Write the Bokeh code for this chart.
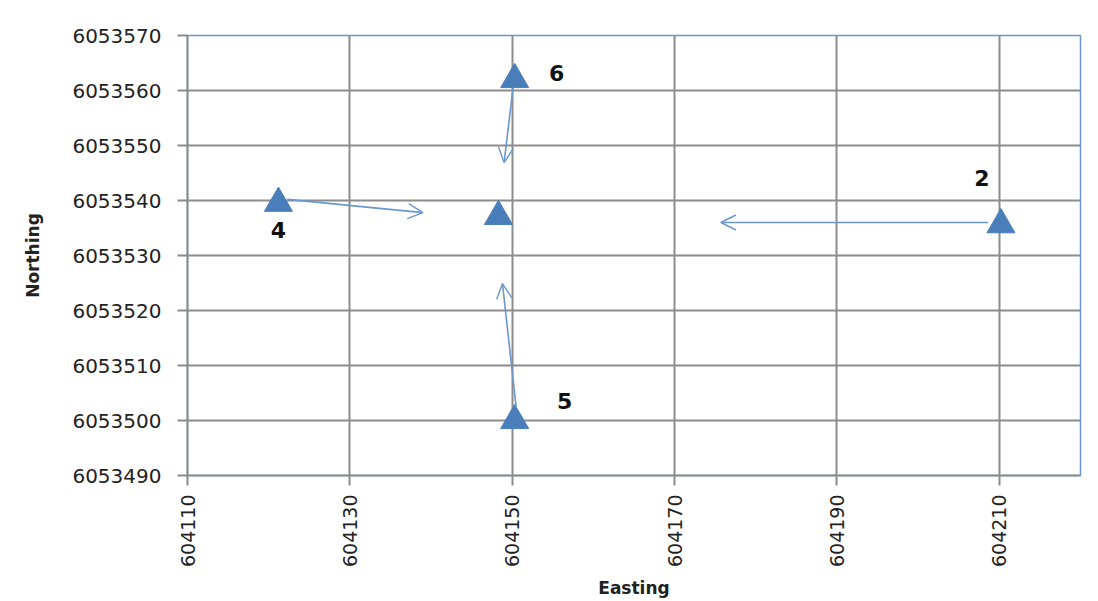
import math
from bokeh.plotting import figure
from bokeh.models import ColumnDataSource, Arrow, OpenHead, FixedTicker
from bokeh.core.properties import value
from bokeh.embed import file_html
from bokeh.resources import INLINE

# --- data ---
station_ids = ["6", "4", "C", "2", "5"]
easting = [604150.3, 604121.2, 604148.3, 604210.2, 604150.3]
northing = [6053562.0, 6053539.5, 6053537.1, 6053535.6, 6053500.0]

label_text = ["6", "2", "4", "5"]
label_e = [604150.3, 604210.2, 604121.2, 604150.3]
label_n = [6053562.0, 6053535.6, 6053539.5, 6053500.0]

arrow_e0 = [604122.3, 604150.1, 604150.5, 604208.6]
arrow_n0 = [6053540.2, 6053560.5, 6053502.2, 6053536.0]
arrow_e1 = [604139.0, 604149.0, 604148.8, 604175.7]
arrow_n1 = [6053537.8, 6053546.9, 6053524.9, 6053536.0]

x_ticks = [604110, 604130, 604150, 604170, 604190, 604210]
y_ticks = [6053490, 6053500, 6053510, 6053520, 6053530, 6053540, 6053550, 6053560, 6053570]

# --- figure ---
p = figure(width=1098, height=601, output_backend="svg", toolbar_location=None,
           x_range=(604110, 604220), y_range=(6053490, 6053570),
           min_border_left=187, min_border_right=18, min_border_top=35, min_border_bottom=126)

grid_col = "#8c8c8c"
blue = "#4a7ebb"
line_blue = "#6b97cf"

p.outline_line_color = line_blue
p.outline_line_width = 1.5

p.xaxis.ticker = FixedTicker(ticks=x_ticks)
p.yaxis.ticker = FixedTicker(ticks=y_ticks)
p.xaxis.formatter.use_scientific = False
p.yaxis.formatter.use_scientific = False
for ax in (p.xaxis, p.yaxis):
    ax.axis_line_color = grid_col
    ax.axis_line_width = 2
    ax.major_tick_line_color = grid_col
    ax.major_tick_line_width = 2
    ax.major_tick_out = 10
    ax.major_tick_in = 0
    ax.minor_tick_line_color = None
    ax.major_label_text_font = "DejaVu Sans"
    ax.major_label_text_color = "#222222"
    ax.axis_label_text_font = "DejaVu Sans"
    ax.axis_label_text_font_style = "bold"
    ax.axis_label_text_color = "#222222"
    ax.axis_label_text_font_size = "17px"

p.yaxis.major_label_text_font_size = "20px"
p.xaxis.major_label_text_font_size = "19px"
p.xaxis.major_label_orientation = math.pi / 2
p.yaxis.major_label_standoff = 16
p.xaxis.major_label_standoff = 9
p.xaxis.axis_label = "Easting"
p.yaxis.axis_label = "Northing"
p.xaxis.axis_label_standoff = 8
p.yaxis.axis_label_standoff = 26

p.xgrid.ticker = FixedTicker(ticks=x_ticks)
p.ygrid.ticker = FixedTicker(ticks=y_ticks)
p.grid.grid_line_color = grid_col
p.grid.grid_line_width = 2

# arrows
for e0, n0, e1, n1 in zip(arrow_e0, arrow_n0, arrow_e1, arrow_n1):
    p.add_layout(Arrow(x_start=e0, y_start=n0, x_end=e1, y_end=n1,
                       line_color=line_blue, line_width=1.6,
                       end=OpenHead(size=15, line_color=line_blue, line_width=1.4)))

# points
src = ColumnDataSource(dict(x=easting, y=northing, id=station_ids))
p.scatter("x", "y", source=src, marker="triangle", size=28,
          fill_color=blue, line_color=blue)

# labels
lsrc = ColumnDataSource(dict(x=label_e, y=label_n, t=label_text,
                             dx=[42, -19, 0, 50], dy=[-7, -47, 27, -20]))
p.text("x", "y", text="t", source=lsrc, x_offset="dx", y_offset="dy",
       text_font=value("DejaVu Sans"), text_font_style="bold",
       text_font_size="22px", text_color="#111111",
       text_align="center", text_baseline="middle")

open("out.html", "w").write(file_html(p, INLINE))
